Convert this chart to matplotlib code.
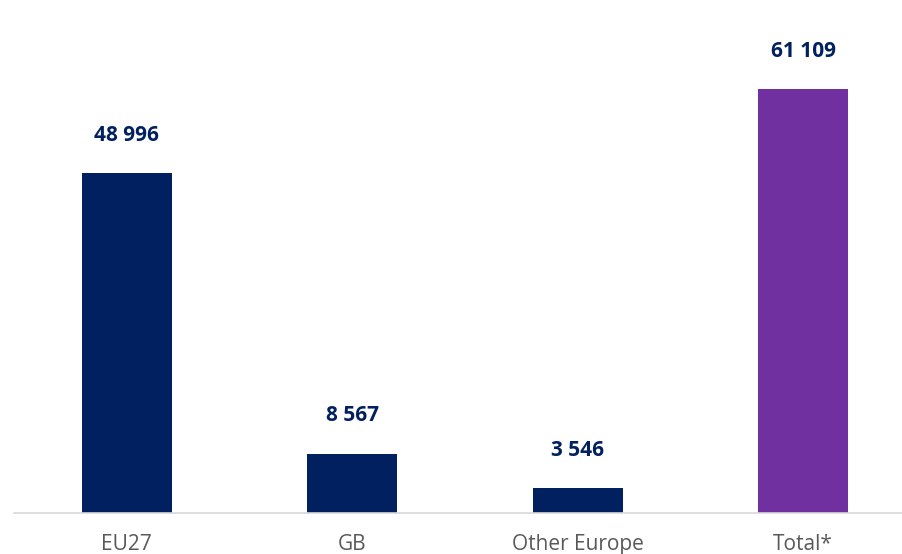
import matplotlib
matplotlib.use("Agg")
import matplotlib.pyplot as plt

categories = ["EU27", "GB", "Other Europe", "Total*"]
values = [48996, 8567, 3546, 61109]
bar_colors = ["#002060", "#002060", "#002060", "#7030A0"]
value_labels = ["48 996", "8 567", "3 546", "61 109"]

plt.rcParams["font.family"] = ["Open Sans", "DejaVu Sans"]

fig = plt.figure(figsize=(9.03, 5.54), dpi=100)
ax = fig.add_axes([14 / 903, 41 / 554, 902 / 903, 487 / 554])

x = range(len(categories))
bars = ax.bar(x, values, width=0.4, color=bar_colors, zorder=2)

for rect, lab in zip(bars, value_labels):
    ax.annotate(lab, (rect.get_x() + rect.get_width() / 2, rect.get_height()),
                xytext=(0, 19.5), textcoords="offset points",
                ha="center", va="bottom", fontsize=15, fontweight="bold",
                color="#002060")

ax.set_xlim(-0.5, 3.5)
ax.set_ylim(0, 70200)
ax.set_xticks(list(x))
ax.set_xticklabels(categories, fontsize=15, color="#595959")
ax.tick_params(axis="x", length=0, pad=15)
ax.set_yticks([])
for side in ["top", "left", "right"]:
    ax.spines[side].set_visible(False)
ax.spines["bottom"].set_color("#D9D9D9")
ax.spines["bottom"].set_linewidth(1.2)

fig.savefig("out.png", dpi=100)
